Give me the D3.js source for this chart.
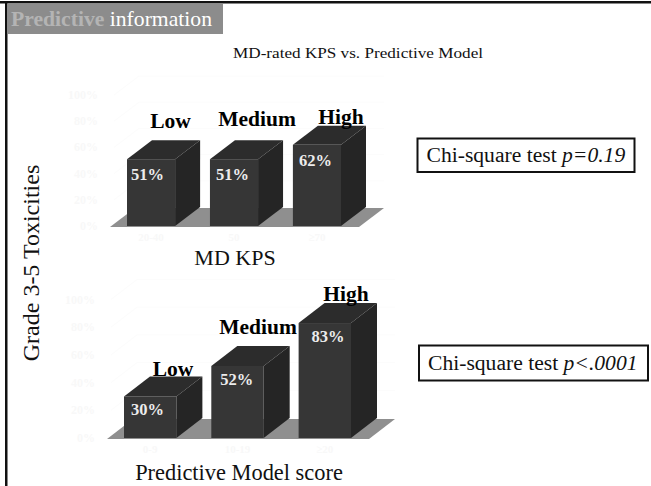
<!DOCTYPE html>
<html><head><meta charset="utf-8">
<script src="https://cdn.jsdelivr.net/npm/d3@7/dist/d3.min.js"></script>
<style>html,body{margin:0;padding:0;background:#fff}svg{display:block}text{font-family:"Liberation Serif",serif}</style>
</head><body><svg id="c" width="651" height="486"></svg>
<script>
const categories = ["Low","Medium","High"];
const kpsValues = [51,51,62];
const modelValues = [30,52,83];
const yTicks = [0,20,40,60,80,100];
const kpsGhostLabels = ["20-40","50","≥70"];
const modelGhostLabels = ["0-9","10-19","≥20"];
const svg = d3.select("#c");
const FONT_COLOR = "#111";

// frame
svg.append("rect").attr("x",0).attr("y",1).attr("width",651).attr("height",2.5).attr("fill","#111");
svg.append("rect").attr("x",5).attr("y",1).attr("width",2.5).attr("height",485).attr("fill","#111");
// header
svg.append("rect").attr("x",7).attr("y",3.5).attr("width",216).attr("height",30.5).attr("fill","#8c8c8c");
const hdr = svg.append("text").attr("x",11).attr("y",26).attr("font-size",21).attr("textLength",201).attr("lengthAdjust","spacingAndGlyphs");
hdr.append("tspan").attr("font-weight","bold").attr("fill","#b4b4b4").text("Predictive");
hdr.append("tspan").attr("fill","#fff").text(" information");
svg.append("text").attr("x",358).attr("y",57.5).attr("text-anchor","middle").attr("font-size",15.5).attr("fill",FONT_COLOR)
  .attr("textLength",250).attr("lengthAdjust","spacingAndGlyphs").text("MD-rated KPS vs. Predictive Model");

function chart(o){
  const g = svg.append("g");
  const y = d3.scaleLinear().domain([0,100]).range([o.base,o.base-o.pxPer100]);
  const x = d3.scaleBand().domain(categories).range(o.xRange).paddingInner(o.inner).paddingOuter(0);
  const d = o.depth;
  // ghost grid
  yTicks.forEach(t=>{
    g.append("text").attr("x",o.xRange[0]-29).attr("y",y(t)+4).attr("text-anchor","end").attr("font-size",12).attr("font-weight","bold").attr("fill","#f8f8f8").text(t+"%");
    if(t>0) g.append("path").attr("d",`M${o.xRange[0]-13},${y(t)}L${o.xRange[0]-13+d[0]},${y(t)-d[1]}H${o.floorR+d[0]}`).attr("fill","none").attr("stroke","#fcfcfc");
  });
  o.ghost.forEach((s,i)=>g.append("text").attr("x",x(categories[i])+x.bandwidth()/2).attr("y",o.base+15).attr("text-anchor","middle").attr("font-size",11).attr("font-weight","bold").attr("fill","#f8f8f8").text(s));
  // floor
  g.append("polygon").attr("fill","#8f8f8f").attr("points",[[o.floorL,o.base+1],[o.floorR,o.base+1],[o.floorR+d[0],o.base+1-d[1]],[o.floorL+d[0],o.base+1-d[1]]].join(" "));
  categories.forEach((c,i)=>{
    const x0=x(c), x1=x0+x.bandwidth(), yt=y(o.values[i]), yb=o.base;
    g.append("polygon").attr("fill","#2c2c2c").attr("points",[[x0,yt],[x1,yt],[x1+d[0],yt-d[1]],[x0+d[0],yt-d[1]]].join(" "));
    g.append("polygon").attr("fill","#252525").attr("points",[[x1,yt],[x1+d[0],yt-d[1]],[x1+d[0],yb-d[1]],[x1,yb]].join(" "));
    g.append("rect").attr("x",x0).attr("y",yt).attr("width",x.bandwidth()).attr("height",yb-yt).attr("fill","#363636");
    g.append("text").attr("x",x0+o.valDx[i]).attr("y",yt+o.valDy[i]).attr("font-size",16.5).attr("font-weight","bold").attr("fill","#ececec").text(o.values[i]+"%");
    g.append("text").attr("x",o.labelX[i]).attr("y",o.labelY[i]).attr("text-anchor","middle").attr("font-size",o.labelSize).attr("font-weight","bold").attr("fill","#000").text(c);
  });
  g.append("text").attr("x",o.titleX).attr("y",o.titleY).attr("text-anchor","middle").attr("font-size",o.titleSize).attr("fill",FONT_COLOR).text(o.title);
}
chart({values:kpsValues,base:226,pxPer100:131,xRange:[127,341],inner:0.42,depth:[25,19],floorL:110,floorR:359,
  valDx:[4,6,6],valDy:[21,21,21],labelX:[170.5,257,341],labelY:[128,126,124],labelSize:21.5,ghost:kpsGhostLabels,
  title:"MD KPS",titleX:235,titleY:264.5,titleSize:22});
chart({values:modelValues,base:438,pxPer100:138.5,xRange:[124,351],inner:0.40,depth:[26,20],floorL:107,floorR:369,
  valDx:[7,9,13],valDy:[19,19,19],labelX:[173,258,346],labelY:[376,334,301],labelSize:21.5,ghost:modelGhostLabels,
  title:"Predictive Model score",titleX:239,titleY:480,titleSize:22.4});
// y title
svg.append("text").attr("transform","translate(39,263) rotate(-90)").attr("text-anchor","middle").attr("font-size",24).attr("fill",FONT_COLOR).text("Grade 3-5 Toxicities");
// stat boxes
function box(x,y,w,h,a,b){
  svg.append("rect").attr("x",x).attr("y",y).attr("width",w).attr("height",h).attr("fill","#fff").attr("stroke","#111").attr("stroke-width",2);
  const t=svg.append("text").attr("x",x+9).attr("y",y+h/2+7).attr("font-size",21.6).attr("fill",FONT_COLOR);
  t.append("tspan").text(a); t.append("tspan").attr("font-style","italic").text(b);
}
box(417.5,138.5,217,33.5,"Chi-square test ","p=0.19");
box(419,345.5,229,35,"Chi-square test ","p<.0001");
</script></body></html>
